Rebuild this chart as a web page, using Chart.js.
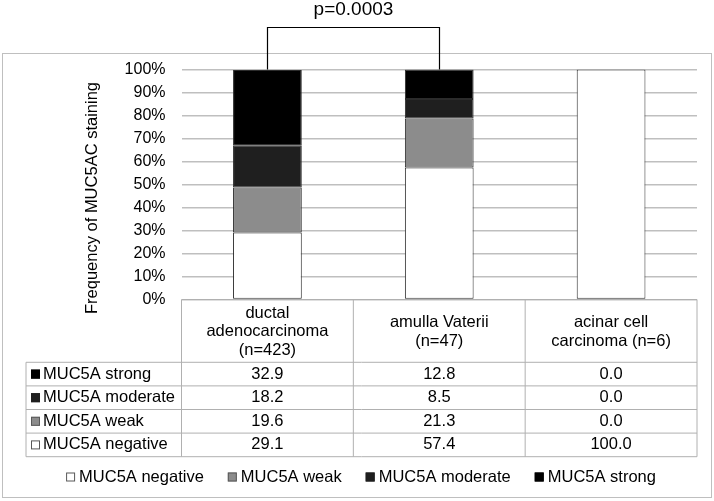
<!DOCTYPE html>
<html>
<head>
<meta charset="utf-8">
<script src="https://cdn.jsdelivr.net/npm/chart.js@4.4.0/dist/chart.umd.min.js"></script>
<style>
  html, body { margin: 0; padding: 0; background: #fff; }
  canvas { display: block; }
</style>
</head>
<body>
<canvas id="chart" width="714" height="501"></canvas>
<script>
// categories (multi-line labels, as in the table header)
const categories = [
    ['ductal', 'adenocarcinoma', '(n=423)'],
    ['amulla Vaterii', '(n=47)'],
    ['acinar cell', 'carcinoma (n=6)']
];

// series, bottom of the stack first
const seriesNames = ['MUC5A negative', 'MUC5A weak', 'MUC5A moderate', 'MUC5A strong'];
const negative = [29.1, 57.4, 100.0];
const weak     = [19.6, 21.3, 0.0];
const moderate = [18.2, 8.5, 0.0];
const strong   = [32.9, 12.8, 0.0];
const seriesColors = ['#ffffff', '#8c8c8c', '#1f1f1f', '#000000'];

const yTicks = [0, 10, 20, 30, 40, 50, 60, 70, 80, 90, 100];
const yTitle = 'Frequency of MUC5AC staining';
const pValueText = 'p=0.0003';

const FONT = '"Liberation Sans", Arial, sans-serif';
const TEXT_FONT = '16.5px ' + FONT;
const LINE = '#bfbfbf';

/**
 * Moldura, eixo Y, colchete de significância, tabela de dados e legenda.
 */
const extrasPlugin = {
    id: 'extras',
    beforeDraw(chart) {
        const ctx = chart.ctx;
        ctx.save();
        ctx.fillStyle = '#fff';
        ctx.fillRect(0, 0, chart.width, chart.height);
        ctx.strokeStyle = LINE;
        ctx.lineWidth = 1;
        ctx.strokeRect(2.5, 53.5, 709, 444);
        ctx.restore();
    },
    afterDraw(chart) {
        const ctx = chart.ctx;
        const x = chart.scales.x;
        const y = chart.scales.y;
        const area = chart.chartArea;
        const catW = (area.right - area.left) / categories.length;
        const datasets = chart.data.datasets;

        ctx.save();
        ctx.fillStyle = '#000';
        ctx.font = TEXT_FONT;

        // titulo do eixo Y
        ctx.save();
        ctx.translate(92, 198);
        ctx.rotate(-Math.PI / 2);
        ctx.textAlign = 'center';
        ctx.textBaseline = 'middle';
        ctx.fillText(yTitle, 0, 0);
        ctx.restore();

        // colchete com o valor de p
        const x0 = Math.round(x.getPixelForValue(0)) + 0.5;
        const x1 = Math.round(x.getPixelForValue(1)) + 0.5;
        const top = y.getPixelForValue(100);
        const by = 27.5;
        ctx.strokeStyle = '#000';
        ctx.lineWidth = 1.2;
        ctx.beginPath();
        ctx.moveTo(x0, top);
        ctx.lineTo(x0, by);
        ctx.lineTo(x1, by);
        ctx.lineTo(x1, top);
        ctx.stroke();
        ctx.font = '19px ' + FONT;
        ctx.textAlign = 'center';
        ctx.textBaseline = 'middle';
        ctx.fillText(pValueText, (x0 + x1) / 2, 10);

        // tabela de dados
        ctx.font = TEXT_FONT;
        const tableTop = area.bottom;
        const headerH = 62.8;
        const rowH = 23.6;
        const tableLeft = 26;
        const nRows = datasets.length;
        const tableBottom = tableTop + headerH + rowH * nRows;

        ctx.strokeStyle = '#b0b0b0';
        ctx.lineWidth = 1;
        ctx.beginPath();
        // linhas horizontais
        ctx.moveTo(area.left, tableTop);
        ctx.lineTo(area.right, tableTop);
        for (let r = 0; r <= nRows; r++) {
            const yy = tableTop + headerH + r * rowH;
            ctx.moveTo(tableLeft, yy);
            ctx.lineTo(area.right, yy);
        }
        // linhas verticais
        ctx.moveTo(tableLeft, tableTop + headerH);
        ctx.lineTo(tableLeft, tableBottom);
        for (let c = 0; c <= categories.length; c++) {
            const xx = area.left + c * catW;
            ctx.moveTo(xx, tableTop);
            ctx.lineTo(xx, tableBottom);
        }
        ctx.stroke();

        // cabecalho
        ctx.textAlign = 'center';
        ctx.textBaseline = 'middle';
        const lineH = 18.5;
        categories.forEach((lines, i) => {
            const cx = x.getPixelForValue(i);
            const cy = tableTop + headerH / 2 + 1;
            lines.forEach((t, k) => {
                ctx.fillText(t, cx, cy + (k - (lines.length - 1) / 2) * lineH);
            });
        });

        // linhas da tabela (forte primeiro)
        for (let r = 0; r < nRows; r++) {
            const ds = datasets[nRows - 1 - r];
            const cy = tableTop + headerH + r * rowH + rowH / 2;
            drawMarker(ctx, 31, cy, ds.backgroundColor);
            ctx.fillStyle = '#000';
            ctx.textAlign = 'left';
            ctx.fillText(ds.label, 43, cy);
            ctx.textAlign = 'center';
            ds.data.forEach((v, i) => {
                ctx.fillText(v.toFixed(1), x.getPixelForValue(i), cy);
            });
        }

        // legenda
        const gap = 24;
        const widths = datasets.map(ds => 13 + ctx.measureText(ds.label).width);
        const total = widths.reduce((a, b) => a + b, 0) + gap * (datasets.length - 1);
        let lx = 361 - total / 2;
        const ly = 477;
        datasets.forEach((ds, i) => {
            drawMarker(ctx, lx, ly, ds.backgroundColor);
            ctx.fillStyle = '#000';
            ctx.textAlign = 'left';
            ctx.fillText(ds.label, lx + 13, ly);
            lx += widths[i] + gap;
        });

        ctx.restore();
    }
};

function drawMarker(ctx, left, cy, color) {
    ctx.fillStyle = color;
    ctx.fillRect(left, cy - 4.5, 9, 9);
    ctx.strokeStyle = color === '#ffffff' || color === '#8c8c8c' ? '#595959' : color;
    ctx.lineWidth = 1;
    ctx.strokeRect(left + 0.5, cy - 4, 8, 8);
}

new Chart(document.getElementById('chart'), {
    type: 'bar',
    data: {
        labels: categories,
        datasets: [negative, weak, moderate, strong].map((values, i) => ({
            label: seriesNames[i],
            data: values,
            backgroundColor: seriesColors[i],
            borderColor: '#2b2b2b',
            borderWidth: 1,
            borderSkipped: false,
            barPercentage: 0.4,
            categoryPercentage: 1.0
        }))
    },
    options: {
        responsive: false,
        animation: false,
        devicePixelRatio: 1,
        layout: { padding: { left: 0, right: 17, top: 69.5, bottom: 201.5 } },
        plugins: {
            legend: { display: false },
            tooltip: { enabled: false }
        },
        scales: {
            x: {
                stacked: true,
                display: false
            },
            y: {
                stacked: true,
                min: 0,
                max: 100,
                afterFit: (scale) => { scale.width = 181.5; },
                afterBuildTicks: (scale) => { scale.ticks = yTicks.map(v => ({ value: v })); },
                border: { display: false },
                grid: { color: LINE, lineWidth: 1.5, drawTicks: false },
                ticks: {
                    color: '#000',
                    padding: 16,
                    font: { family: FONT, size: 16 },
                    callback: (v) => v + '%'
                }
            }
        }
    },
    plugins: [extrasPlugin]
});
</script>
</body>
</html>
